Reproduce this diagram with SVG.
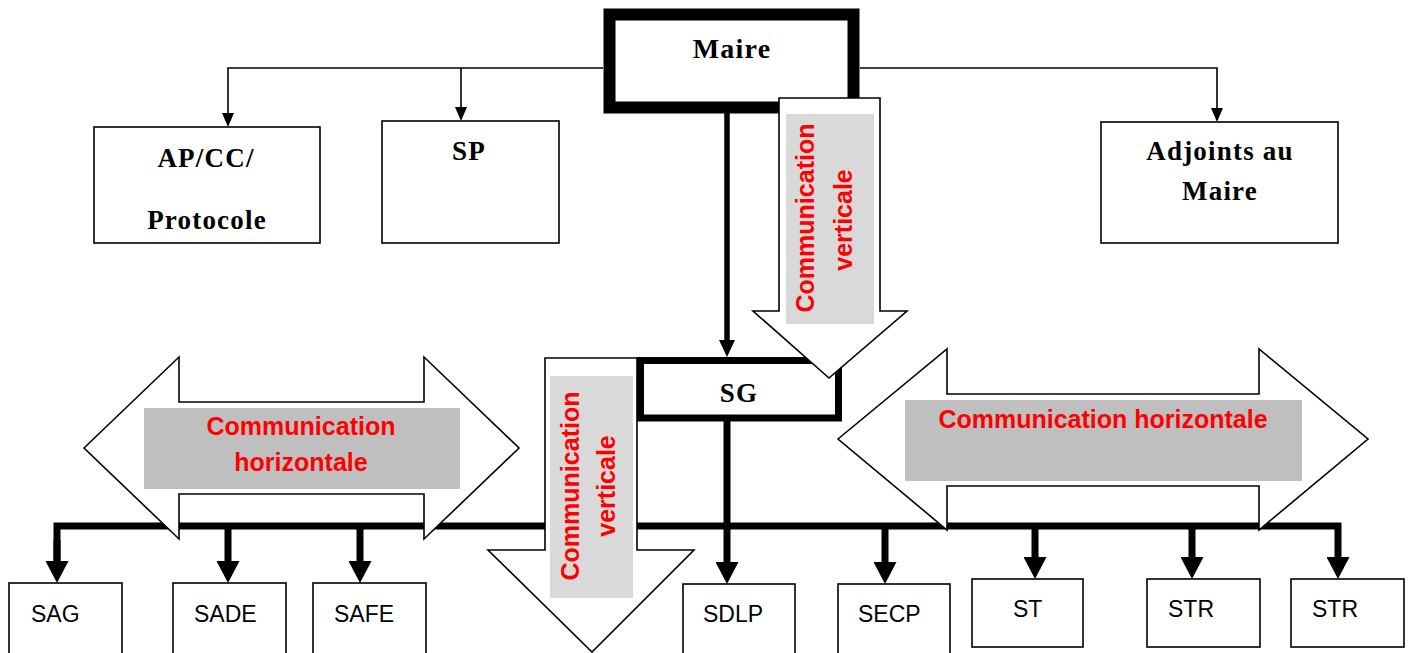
<svg xmlns="http://www.w3.org/2000/svg" width="1412" height="653" viewBox="0 0 1412 653">
<style>
.bg{fill:#ffffff}
.box{fill:#ffffff;stroke:#000;stroke-width:1.6}
.thin{fill:none;stroke:#000;stroke-width:1.6}
.med{fill:none;stroke:#000;stroke-width:5.5}
.thick{fill:none;stroke:#000;stroke-width:7;stroke-linejoin:miter}
.big{fill:#ffffff;stroke:#000;stroke-width:1.6;stroke-linejoin:miter}
.serif{font-family:"Liberation Serif","Times New Roman",serif;font-weight:bold;font-size:27px;fill:#000;text-anchor:middle;letter-spacing:1.2px}
.sans{font-family:"Liberation Sans",Arial,sans-serif;font-size:23px;fill:#000}
.red{font-family:"Liberation Sans",Arial,sans-serif;font-weight:bold;font-size:25px;fill:#ff0000;text-anchor:middle}
.g1{fill:#bfbfbf}
.g2{fill:#d9d9d9}
</style>
<defs>
<marker id="ahThin" markerUnits="userSpaceOnUse" viewBox="0 0 14 12" markerWidth="14" markerHeight="12" refX="0" refY="6" orient="auto"><path d="M0,0 L14,6 L0,12 z" fill="#000"/></marker>
<marker id="ahMed" markerUnits="userSpaceOnUse" viewBox="0 0 17 16" markerWidth="17" markerHeight="16" refX="0" refY="8" orient="auto"><path d="M0,0 L17,8 L0,16 z" fill="#000"/></marker>
<marker id="ahThick" markerUnits="userSpaceOnUse" viewBox="0 0 22 23" markerWidth="22" markerHeight="23" refX="0" refY="11.5" orient="auto"><path d="M0,0 L22,11.5 L0,23 z" fill="#000"/></marker>
</defs>
<rect class="bg" x="0" y="0" width="1412" height="653"/>

<g id="connectors">
<path class="thin" d="M603,68 H228 V113" marker-end="url(#ahThin)"/>
<path class="thin" d="M461,68 V107" marker-end="url(#ahThin)"/>
<path class="thin" d="M860,68 H1217 V108" marker-end="url(#ahThin)"/>
<path class="med" d="M727,110 V340" marker-end="url(#ahMed)"/>
<path class="thick" d="M727,421 V562" marker-end="url(#ahThick)"/>
<path class="thick" d="M57,561 V526 H1338 V557" marker-end="url(#ahThick)"/>
<path class="thick" d="M57,540 V561" marker-end="url(#ahThick)"/>
<path class="thick" d="M228,526 V561" marker-end="url(#ahThick)"/>
<path class="thick" d="M360,526 V561" marker-end="url(#ahThick)"/>
<path class="thick" d="M885,526 V562" marker-end="url(#ahThick)"/>
<path class="thick" d="M1035,526 V557" marker-end="url(#ahThick)"/>
<path class="thick" d="M1192,526 V557" marker-end="url(#ahThick)"/>
</g>

<g id="maire">
<rect x="609.5" y="14.5" width="244" height="93" fill="#fff" stroke="#000" stroke-width="12"/>
<text class="serif" x="732" y="58" style="font-size:28px">Maire</text>
</g>
<g id="apcc">
<rect class="box" x="94" y="127" width="226" height="116"/>
<text class="serif" x="206" y="167">AP/CC/</text>
<text class="serif" x="207" y="229">Protocole</text>
</g>
<g id="sp">
<rect class="box" x="382" y="121" width="177" height="122"/>
<text class="serif" x="469" y="160">SP</text>
</g>
<g id="adjoints">
<rect class="box" x="1101" y="122" width="237" height="121"/>
<text class="serif" x="1220" y="160">Adjoints au</text>
<text class="serif" x="1220" y="200">Maire</text>
</g>
<g id="sg">
<rect x="640.5" y="360.5" width="198" height="57.5" fill="#fff" stroke="#000" stroke-width="7"/>
<text class="serif" x="739" y="402">SG</text>
</g>

<g id="sag"><rect class="box" x="9" y="583" width="113" height="80"/><text class="sans" x="31" y="622">SAG</text></g>
<g id="sade"><rect class="box" x="173" y="583" width="113" height="80"/><text class="sans" x="194" y="622">SADE</text></g>
<g id="safe"><rect class="box" x="313" y="583" width="113" height="80"/><text class="sans" x="334" y="622">SAFE</text></g>
<g id="sdlp"><rect class="box" x="683" y="584" width="112" height="80"/><text class="sans" x="703" y="622">SDLP</text></g>
<g id="secp"><rect class="box" x="838" y="584" width="112" height="80"/><text class="sans" x="858" y="622">SECP</text></g>
<g id="st"><rect class="box" x="972" y="579" width="111" height="68"/><text class="sans" x="1013" y="617">ST</text></g>
<g id="str1"><rect class="box" x="1147" y="579" width="113" height="68"/><text class="sans" x="1168" y="617">STR</text></g>
<g id="str2"><rect class="box" x="1291" y="579" width="113" height="68"/><text class="sans" x="1312" y="617">STR</text></g>

<g id="comm-horiz-left">
<polygon class="big" points="84,448 179,357 179,402 424,402 424,357 519,448 424,539 424,494 179,494 179,539"/>
<rect class="g1" x="144" y="408" width="316" height="81"/>
<text class="red" x="301" y="435">Communication</text>
<text class="red" x="301" y="471">horizontale</text>
</g>
<g id="comm-horiz-right">
<polygon class="big" points="838,439 947,349 947,394 1259,394 1259,349 1368,439 1259,530 1259,486 947,486 947,530"/>
<rect class="g1" x="905" y="400" width="397" height="81"/>
<text class="red" x="1103" y="428">Communication horizontale</text>
</g>
<g id="comm-vert-upper">
<polygon class="big" points="779,98 880,98 880,311 907,311 829,378 753,311 779,311"/>
<rect class="g2" x="786" y="114" width="88" height="210"/>
<text class="red" transform="translate(814,218) rotate(-90)">Communication</text>
<text class="red" transform="translate(852,220) rotate(-90)">verticale</text>
</g>
<g id="comm-vert-lower">
<polygon class="big" points="545,358 637,358 637,550 694,550 592,652 488,550 545,550"/>
<rect class="g2" x="550" y="376" width="83" height="222"/>
<text class="red" transform="translate(579,486) rotate(-90)">Communication</text>
<text class="red" transform="translate(615,486) rotate(-90)">verticale</text>
</g>
</svg>
